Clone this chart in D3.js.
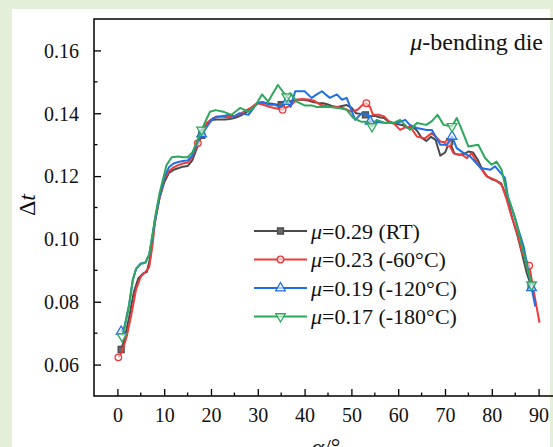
<!DOCTYPE html>
<html>
<head>
<meta charset="utf-8">
<script src="https://cdn.jsdelivr.net/npm/d3@7"></script>
<style>
  body { margin: 0; background: #e3efd9; }
  svg { display: block; }
</style>
</head>
<body>
<script>
var width = 553,
    height = 447;

// alpha (deg), delta t
var rtData = [[0.8,0.0648],[1.5,0.068],[2.5,0.075],[3.5,0.083],[4.5,0.0875],[5.5,0.089],[6.3,0.0895],[7,0.094],[7.5,0.100],[8,0.106],[9,0.113],[10,0.118],[11,0.121],[12,0.122],[13,0.1225],[14,0.123],[15,0.1232],[16,0.125],[17,0.129],[18,0.133],[19,0.1365],[20,0.1378],[21,0.138],[22,0.138],[23,0.138],[24,0.1382],[25,0.1385],[26,0.139],[27,0.1398],[28,0.1408],[29,0.142],[30,0.1433],[31,0.1435],[32,0.1432],[33,0.143],[34,0.1428],[35,0.1427],[36,0.1432],[37,0.1438],[38,0.1443],[39,0.1443],[40,0.1442],[41,0.144],[42,0.1435],[43,0.1433],[44,0.1432],[45,0.1428],[46,0.1422],[47,0.142],[48,0.1423],[49,0.1426],[50,0.1418],[51,0.14],[52,0.1398],[53,0.1395],[54,0.139],[55,0.1392],[56,0.1387],[57,0.1385],[58,0.1372],[59,0.1367],[60,0.1365],[61,0.1362],[62,0.1353],[63,0.1358],[64,0.1345],[65,0.1322],[66,0.1312],[67,0.1325],[68,0.1315],[69,0.1265],[70,0.1275],[71,0.131],[72,0.1272],[73,0.1268],[74,0.127],[75,0.1278],[76,0.1275],[77,0.1252],[78,0.122],[79,0.1199],[80,0.119],[81,0.1185],[82,0.1177],[83,0.114],[83.5,0.1114],[84.5,0.106],[85.5,0.101],[86.5,0.095],[87.5,0.089],[88.4,0.085]];

var m60Data = [[0.2,0.0623],[1,0.064],[2,0.069],[3,0.076],[4,0.084],[5,0.088],[6,0.0895],[6.8,0.091],[7.5,0.098],[8,0.105],[9,0.113],[10,0.119],[11,0.1215],[12,0.1228],[13,0.1235],[14,0.124],[15,0.1243],[16,0.126],[17.2,0.1305],[18,0.134],[19.1,0.1369],[20,0.138],[21.2,0.139],[22,0.139],[23,0.1388],[24,0.1388],[24.8,0.139],[26,0.1395],[27,0.1405],[28.4,0.1416],[29.8,0.1432],[31,0.1428],[32.6,0.142],[34,0.1415],[35.3,0.1411],[36,0.1418],[37,0.1425],[38.3,0.1443],[39.5,0.1445],[41.2,0.1443],[42,0.144],[43.3,0.1427],[44.5,0.1423],[45.5,0.142],[47,0.142],[48.3,0.1416],[50,0.1405],[51.3,0.1411],[52.5,0.1428],[53.2,0.1432],[54,0.142],[54.6,0.1395],[55.8,0.1395],[57,0.139],[58,0.1375],[59,0.1369],[60.4,0.1347],[61.5,0.1355],[62.5,0.1358],[64,0.1326],[65.7,0.132],[67.2,0.1337],[68,0.1325],[69,0.131],[70.7,0.1305],[71.8,0.1273],[73,0.1268],[73.6,0.1268],[74.7,0.1257],[75.7,0.1273],[77.1,0.1236],[78.9,0.1199],[80.7,0.1188],[82.1,0.1172],[83.2,0.1125],[84.2,0.1072],[85.5,0.1015],[86.5,0.0955],[88,0.0915],[89,0.083],[90.2,0.0733]];

var m120Data = [[0.8,0.0705],[1.5,0.072],[2.5,0.079],[3.3,0.087],[4,0.0905],[5,0.0922],[6,0.0925],[6.8,0.095],[7.5,0.101],[8.2,0.107],[9,0.1135],[10,0.1195],[11,0.1228],[12,0.124],[13,0.1245],[14,0.1248],[15,0.125],[16,0.1265],[17,0.1305],[18,0.1334],[18.7,0.1347],[19.5,0.1365],[20.5,0.1385],[22,0.139],[24,0.1395],[25,0.139],[26,0.14],[27,0.1398],[28,0.1395],[29,0.1415],[30,0.1433],[31,0.1435],[32.6,0.1427],[33.5,0.1428],[34.8,0.142],[36.2,0.1437],[37,0.142],[38,0.147],[39,0.147],[40,0.147],[41.5,0.1449],[42.6,0.146],[43.7,0.147],[44.5,0.146],[45.4,0.1449],[46.9,0.146],[48,0.1443],[49,0.1449],[50.8,0.1379],[52.2,0.14],[53.6,0.1395],[54,0.1374],[55.5,0.1372],[57.6,0.1369],[59.7,0.1369],[61.5,0.1379],[62.5,0.1363],[64,0.1353],[66.1,0.1347],[67.2,0.1347],[69,0.13],[70.4,0.13],[71.5,0.1326],[72.5,0.1289],[74,0.1273],[75.4,0.1262],[77.6,0.1226],[79.7,0.122],[80.7,0.1231],[82.8,0.1194],[83.5,0.113],[84.6,0.1083],[85.7,0.1029],[86.8,0.0976],[88.5,0.0844],[89.3,0.0785]];

var m180Data = [[1,0.069],[1.5,0.0715],[2.5,0.079],[3.3,0.087],[4,0.0905],[5,0.092],[6,0.0925],[6.8,0.095],[7.5,0.1015],[8.2,0.108],[9,0.1145],[10,0.1205],[10.5,0.1235],[11.6,0.126],[13,0.1262],[14,0.126],[15,0.126],[16,0.1275],[17,0.131],[18,0.1347],[19,0.138],[19.8,0.1405],[21,0.141],[22.6,0.1405],[24.4,0.1395],[26.2,0.1417],[28,0.1405],[29.5,0.1425],[30.9,0.146],[32.2,0.1437],[33.3,0.1465],[34.3,0.149],[35.3,0.147],[36.2,0.1453],[36.9,0.1464],[38.3,0.1437],[40,0.1425],[41.5,0.1425],[42.6,0.142],[43.3,0.142],[45.4,0.142],[47.6,0.1416],[49,0.1411],[50.4,0.1385],[51.9,0.1374],[53.5,0.1372],[54.4,0.1358],[55.4,0.1379],[57,0.137],[59,0.1369],[60.4,0.1379],[62.5,0.1347],[64,0.1369],[66,0.1363],[67.2,0.1375],[68.4,0.1395],[69.7,0.1363],[71.5,0.1358],[72.5,0.1385],[73.6,0.1347],[75,0.1294],[77.1,0.13],[78.6,0.1257],[80,0.1236],[81,0.1246],[82.1,0.122],[83.2,0.1146],[85,0.1066],[86.8,0.0955],[88.5,0.0854]];

// where the markers sit along each curve (alpha)
var rtMarks = [0.8, 18, 35, 53, 71, 88.4];
var m60Marks = [0.2, 17.2, 35.3, 53.2, 70.7, 88];
var m120Marks = [0.8, 18, 36.2, 54, 71.5, 88.5];
var m180Marks = [1, 18, 36.2, 54.4, 71.5, 88.5];

var labels = ['0.29 (RT)', '0.23 (-60\u00b0C)', '0.19 (-120\u00b0C)', '0.17 (-180\u00b0C)'];
var xTicks = [0, 10, 20, 30, 40, 50, 60, 70, 80, 90];
var yTicks = [0.06, 0.08, 0.10, 0.12, 0.14, 0.16];

var series = [
  {data: rtData, marks: rtMarks, color: '#4a4a4a', shape: 'square', label: labels[0]},
  {data: m60Data, marks: m60Marks, color: '#ee3b3b', shape: 'circle', label: labels[1]},
  {data: m120Data, marks: m120Marks, color: '#1f6fe5', shape: 'up', label: labels[2]},
  {data: m180Data, marks: m180Marks, color: '#2ea85c', shape: 'down', label: labels[3]}
];

var svg = d3.select('body')
  .append('svg')
  .attr('width', width)
  .attr('height', height)
  .style('font-family', '"Liberation Serif", "Times New Roman", serif');

// white panel
svg.append('rect')
  .attr('x', 12).attr('y', 9)
  .attr('width', 538).attr('height', height - 9)
  .attr('fill', '#ffffff');

var pLeft = 94, pTop = 19, pRight = 562, pBottom = 396;

var x = d3.scaleLinear().domain([-5, 95]).range([pLeft, pRight]);
var y = d3.scaleLinear().domain([0.05, 0.17]).range([pBottom, pTop]);

// minor ticks
var g = svg.append('g');
[5, 15, 25, 35, 45, 55, 65, 75, 85].forEach(function(v) {
  g.append('line')
    .attr('x1', x(v)).attr('x2', x(v))
    .attr('y1', pBottom).attr('y2', pBottom - 3.5)
    .attr('stroke', '#000').attr('stroke-width', 1.3);
});
[0.07, 0.09, 0.11, 0.13, 0.15].forEach(function(v) {
  g.append('line')
    .attr('x1', pLeft).attr('x2', pLeft + 3.5)
    .attr('y1', y(v)).attr('y2', y(v))
    .attr('stroke', '#000').attr('stroke-width', 1.3);
});

var xAxis = svg.append('g')
  .attr('transform', 'translate(0,' + pBottom + ')')
  .call(d3.axisBottom(x).tickValues(xTicks).tickSizeInner(-7).tickSizeOuter(0).tickPadding(12));

var yAxis = svg.append('g')
  .attr('transform', 'translate(' + pLeft + ',0)')
  .call(d3.axisLeft(y).tickValues(yTicks).tickFormat(d3.format('.2f')).tickSizeInner(-7).tickSizeOuter(0).tickPadding(15));

[xAxis, yAxis].forEach(function(a) {
  a.select('.domain').remove();
  a.selectAll('line').attr('stroke', '#000').attr('stroke-width', 1.3);
  a.selectAll('text')
    .attr('fill', '#111')
    .style('font-family', '"Liberation Serif", serif')
    .style('font-size', '20px');
});
yAxis.selectAll('text').attr('dy', '0.34em');

// frame
svg.append('path')
  .attr('d', 'M' + pRight + ',' + pTop + 'H' + pLeft + 'V' + pBottom + 'H' + pRight)
  .attr('fill', 'none')
  .attr('stroke', '#000')
  .attr('stroke-width', 1.5);

var line = d3.line()
  .x(function(d) { return x(d[0]); })
  .y(function(d) { return y(d[1]); });

var sym = {
  square: d3.symbol().type(d3.symbolSquare).size(36),
  circle: d3.symbol().type(d3.symbolCircle).size(34),
  up: d3.symbol().type(d3.symbolTriangle).size(40),
  down: d3.symbol().type(d3.symbolTriangle).size(40)
};

function drawMarker(sel, s, px, py) {
  var rot = s.shape === 'down' ? ' rotate(180)' : '';
  sel.append('path')
    .attr('d', sym[s.shape]())
    .attr('transform', 'translate(' + px + ',' + py + ')' + rot)
    .attr('fill', s.shape === 'square' ? '#6a6a6a' : '#fff')
    .attr('fill-opacity', s.shape === 'square' ? 1 : 0.6)
    .attr('stroke', s.color)
    .attr('stroke-width', 1.3);
}

series.forEach(function(s) {
  svg.append('path')
    .datum(s.data)
    .attr('d', line)
    .attr('fill', 'none')
    .attr('stroke', s.color)
    .attr('stroke-width', 2)
    .attr('stroke-linejoin', 'round');

  s.marks.forEach(function(a) {
    var p = s.data.reduce(function(best, d) {
      return Math.abs(d[0] - a) < Math.abs(best[0] - a) ? d : best;
    });
    drawMarker(svg, s, x(p[0]), y(p[1]));
  });
});

// legend
var legend = svg.append('g');
series.forEach(function(s, i) {
  var ly = 231 + i * 28.5;
  legend.append('line')
    .attr('x1', 254).attr('x2', 307)
    .attr('y1', ly).attr('y2', ly)
    .attr('stroke', s.color).attr('stroke-width', 2);
  drawMarker(legend, s, 280.5, ly);
  var t = legend.append('text')
    .attr('x', 311).attr('y', ly + 7.5)
    .style('font-size', '22px')
    .attr('fill', '#111');
  t.append('tspan').style('font-style', 'italic').text('\u03bc');
  t.append('tspan').text('=' + s.label);
});

// annotation
var title = svg.append('text')
  .attr('x', 543).attr('y', 50)
  .attr('text-anchor', 'end')
  .style('font-size', '24px')
  .attr('fill', '#111');
title.append('tspan').style('font-style', 'italic').text('\u03bc');
title.append('tspan').text('-bending die');

// axis titles
var yl = svg.append('text')
  .attr('transform', 'translate(35,205) rotate(-90)')
  .attr('text-anchor', 'middle')
  .style('font-size', '24px')
  .attr('fill', '#111');
yl.append('tspan').text('\u0394');
yl.append('tspan').style('font-style', 'italic').text('t');

var xl = svg.append('text')
  .attr('x', 326).attr('y', 455)
  .attr('text-anchor', 'middle')
  .style('font-size', '24px')
  .attr('fill', '#111');
xl.append('tspan').style('font-style', 'italic').text('\u03b1');
xl.append('tspan').text('/\u00b0');
</script>
</body>
</html>
